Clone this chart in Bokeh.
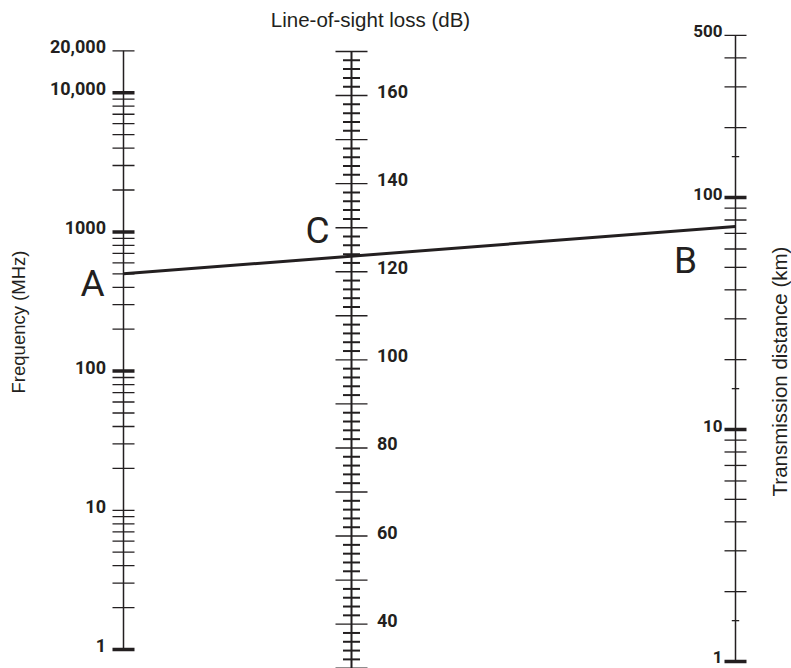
import math
from bokeh.plotting import figure
from bokeh.models import Range1d, LogScale
from bokeh.core.properties import value
from bokeh.embed import file_html
from bokeh.resources import INLINE

# ---------------- data ----------------
freq_label_values = [1, 10, 100, 1000, 10000, 20000]
freq_labels = ["1", "10", "100", "1000", "10,000", "20,000"]
freq_thick = [1, 100, 1000, 10000]
freq_thin = [10, 20000] + [m * 10 ** k for k in range(4) for m in range(2, 10)]

loss_label_values = [40, 60, 80, 100, 120, 140, 160]
loss_labels = ["40", "60", "80", "100", "120", "140", "160"]
loss_major = list(range(30, 171, 10))
loss_minor = [v for v in range(30, 171, 2) if v % 10]

dist_label_values = [1, 10, 100, 500]
dist_labels = ["1", "10", "100", "500"]
dist_thick = [1, 10, 100]
dist_thin = [2, 3, 4, 5, 6, 7, 8, 9, 20, 30, 40, 50, 60, 70, 80, 90, 200, 300, 400, 500]
dist_short = [1.5, 15, 150]

freq_A = 500     # MHz
dist_B = 75      # km

# ---------------- layout ----------------
INK = "#231f20"
NUM_FONT = "Roboto"
TITLE_FONT = "Liberation Sans"
FREQ_X, LOSS_X, DIST_X = 123, 351, 735

p = figure(width=791, height=668, x_range=Range1d(0, 791), y_range=Range1d(668, 0),
           output_backend="svg", toolbar_location=None, min_border=0,
           outline_line_color=None, title=None)
p.axis.visible = False
p.grid.visible = False

p.extra_y_ranges = {
    "db": Range1d(29.932, 181.578),
    "freq": Range1d(0.7305, 45965),
    "dist": Range1d(0.93286, 706.66),
}
p.extra_y_scales = {"freq": LogScale(), "dist": LogScale()}


def page_y(v, name):
    r = p.extra_y_ranges[name]
    if name == "db":
        fr = (v - r.start) / (r.end - r.start)
    else:
        fr = (math.log10(v) - math.log10(r.start)) / (math.log10(r.end) - math.log10(r.start))
    return p.y_range.start + fr * (p.y_range.end - p.y_range.start)


def ticks(vals, axis_x, half, width, name):
    p.segment(x0=[axis_x - half] * len(vals), y0=vals, x1=[axis_x + half] * len(vals), y1=vals,
              line_color=INK, line_width=width, y_range_name=name)


def labels(vals, texts, x, align, size, name):
    p.text(x=[x] * len(vals), y=vals, text=texts, y_range_name=name,
           text_font=value(NUM_FONT), text_font_style="bold", text_font_size=value(size),
           text_align=align, text_baseline="middle", text_color=INK, y_offset=-4)


# frequency axis
p.segment(x0=[FREQ_X], y0=[min(freq_label_values)], x1=[FREQ_X], y1=[max(freq_label_values)],
          line_color=INK, line_width=1.5, y_range_name="freq")
ticks(freq_thin, FREQ_X, 11, 1.3, "freq")
ticks(freq_thick, FREQ_X, 11, 3.5, "freq")
labels(freq_label_values, freq_labels, FREQ_X - 17.5, "right", "18px", "freq")

# loss axis
p.segment(x0=[LOSS_X], y0=[min(loss_major)], x1=[LOSS_X], y1=[max(loss_major)],
          line_color=INK, line_width=2, y_range_name="db")
ticks(loss_major, LOSS_X, 16, 1.4, "db")
ticks(loss_minor, LOSS_X, 8.5, 2, "db")
labels(loss_label_values, loss_labels, LOSS_X + 25.5, "left", "18px", "db")

# distance axis
p.segment(x0=[DIST_X], y0=[min(dist_label_values)], x1=[DIST_X], y1=[max(dist_label_values)],
          line_color=INK, line_width=1.5, y_range_name="dist")
ticks(dist_thin, DIST_X, 11, 1.3, "dist")
ticks(dist_thick, DIST_X, 11, 3.5, "dist")
ticks(dist_short, DIST_X, 3.7, 1.3, "dist")
labels(dist_label_values, dist_labels, DIST_X - 13, "right", "17px", "dist")

# the A-B isopleth
yA = page_y(freq_A, "freq")
yB = page_y(dist_B, "dist")
p.line(x=[FREQ_X, DIST_X], y=[yA, yB], line_color=INK, line_width=3)
yC = yA + (yB - yA) * (LOSS_X - FREQ_X) / (DIST_X - FREQ_X)

# point letters
p.text(x=[FREQ_X - 31, LOSS_X - 34, DIST_X - 50], y=[yA + 10, yC - 26, yB + 34],
       text=["A", "C", "B"], text_font=value(NUM_FONT), text_font_size=value("37px"),
       text_align="center", text_baseline="middle", text_color=INK)

# axis titles
p.text(x=[370], y=[19], text=["Line-of-sight loss (dB)"], text_font=value(TITLE_FONT),
       text_font_size=value("20.5px"), text_align="center", text_baseline="middle", text_color=INK)
p.text(x=[18], y=[321.5], text=["Frequency (MHz)"], text_font=value(TITLE_FONT),
       text_font_size=value("18.5px"), text_align="center", text_baseline="middle",
       text_color=INK, angle=math.pi / 2)
p.text(x=[779], y=[371], text=["Transmission distance (km)"], text_font=value(TITLE_FONT),
       text_font_size=value("20.5px"), text_align="center", text_baseline="middle",
       text_color=INK, angle=math.pi / 2)

open("out.html", "w").write(file_html(p, INLINE))
